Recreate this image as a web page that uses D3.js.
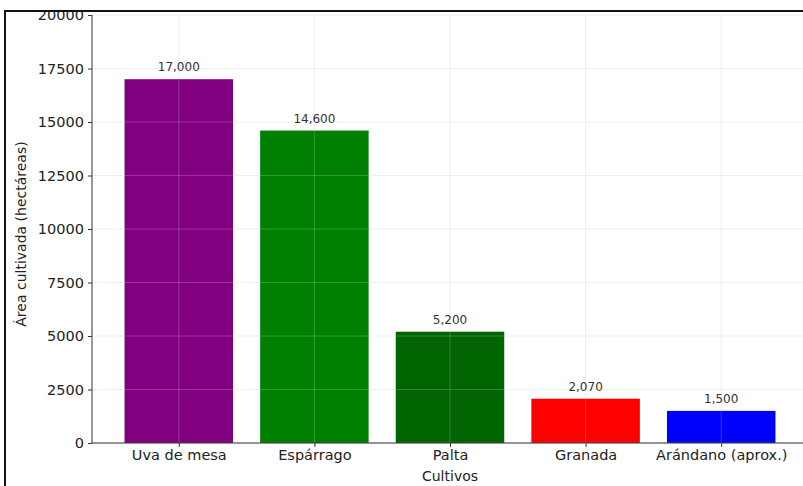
<!DOCTYPE html>
<meta charset="utf-8">
<style>
body { margin: 0; background: #fff; }
.grid line { stroke: #ebebeb; stroke-width: 1; }
.axis path, .axis line { stroke: #333; }
.axis text { font-family: "DejaVu Sans", sans-serif; font-size: 14.5px; fill: #222; }
.valueLabel { font-family: "DejaVu Sans", sans-serif; font-size: 12px; fill: #333; }
.axisTitle { font-family: "DejaVu Sans", sans-serif; font-size: 14px; fill: #222; }
</style>
<body>
<div id="chart"></div>
<script src="https://d3js.org/d3.v7.min.js"></script>
<script>
// datos
var cultivos = ["Uva de mesa", "Espárrago", "Palta", "Granada", "Arándano (aprox.)"];
var hectareas = [17000, 14600, 5200, 2070, 1500];
var colores = ["#800080", "#008000", "#006400", "#ff0000", "#0000ff"];
var yTicks = [0, 2500, 5000, 7500, 10000, 12500, 15000, 17500, 20000];

var W = 803, H = 486;
var margin = { top: 15, right: -5, bottom: 43, left: 92 },
    width = W - margin.left - margin.right,
    height = H - margin.top - margin.bottom;

var svg = d3.select("#chart").append("svg")
    .attr("width", W)
    .attr("height", H);

var g = svg.append("g")
    .attr("transform", "translate(" + margin.left + "," + margin.top + ")");

// limites tipo matplotlib: -0.64 .. 4.64
var xLin = d3.scaleLinear().domain([-0.64, cultivos.length - 1 + 0.64]).range([0, width]);
var x = function(i) { return xLin(i); };
var barW = xLin(0.8) - xLin(0);

var y = d3.scaleLinear().domain([0, 20000]).range([height, 0]);

// grid
g.append("g").attr("class", "grid")
  .selectAll("line").data(yTicks).enter().append("line")
    .attr("x1", 0).attr("x2", width)
    .attr("y1", function(d) { return y(d); })
    .attr("y2", function(d) { return y(d); });
g.append("g").attr("class", "grid")
  .selectAll("line").data(cultivos).enter().append("line")
    .attr("x1", function(d, i) { return x(i); })
    .attr("x2", function(d, i) { return x(i); })
    .attr("y1", 0).attr("y2", height);

// barras
g.selectAll(".bar").data(hectareas).enter().append("rect")
    .attr("class", "bar")
    .attr("x", function(d, i) { return x(i) - barW / 2; })
    .attr("width", barW)
    .attr("y", function(d) { return y(d); })
    .attr("height", function(d) { return height - y(d); })
    .attr("fill", function(d, i) { return colores[i]; });

// grid tenue sobre las barras
g.append("g").attr("opacity", 0.2)
  .selectAll("line").data(yTicks).enter().append("line")
    .attr("x1", 0).attr("x2", width)
    .attr("y1", function(d) { return y(d); })
    .attr("y2", function(d) { return y(d); })
    .attr("stroke", "#fff");
g.append("g").attr("opacity", 0.2)
  .selectAll("line").data(cultivos).enter().append("line")
    .attr("x1", function(d, i) { return x(i); })
    .attr("x2", function(d, i) { return x(i); })
    .attr("y1", 0).attr("y2", height)
    .attr("stroke", "#fff");

// etiquetas de valor
g.selectAll(".valueLabel").data(hectareas).enter().append("text")
    .attr("class", "valueLabel")
    .attr("x", function(d, i) { return x(i); })
    .attr("y", function(d) { return y(d) - 8; })
    .attr("text-anchor", "middle")
    .text(function(d) { return d3.format(",")(d); });

// ejes
var yAxis = g.append("g").attr("class", "axis")
    .call(d3.axisLeft(y).tickValues(yTicks).tickFormat(d3.format("d")).tickSize(4).tickPadding(4));
yAxis.select(".domain").attr("d", "M0,0V" + height);

var xAxis = g.append("g").attr("class", "axis")
    .attr("transform", "translate(0," + height + ")")
    .call(d3.axisBottom(xLin).tickValues(d3.range(cultivos.length))
      .tickFormat(function(i) { return cultivos[i]; }).tickSize(4).tickPadding(3));
xAxis.select(".domain").attr("d", "M0,0H" + width);

g.append("text").attr("class", "axisTitle")
    .attr("x", x(2)).attr("y", height + 38)
    .attr("text-anchor", "middle")
    .text("Cultivos");

g.append("text").attr("class", "axisTitle")
    .attr("transform", "translate(" + (-66) + "," + (y(10000) + 5) + ") rotate(-90)")
    .attr("text-anchor", "middle")
    .text("Área cultivada (hectáreas)");

// marco
svg.append("path")
    .attr("d", "M5," + H + "V11H" + W)
    .attr("fill", "none")
    .attr("stroke", "#111")
    .attr("stroke-width", 2);
</script>
</body>
